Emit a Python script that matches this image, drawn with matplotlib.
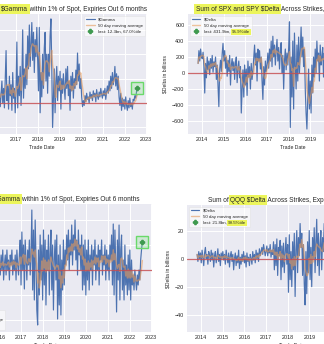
import matplotlib
matplotlib.use("Agg")
import matplotlib.pyplot as plt
import matplotlib.dates as mdates
import pandas as pd

# every series is sampled once every 14 days
step = "14D"
left_start = "2016-01-01"    # left panels: earlier part is cut off the picture
right_start = "2013-10-25"   # right panels: later part is cut off the picture

# Sum of SPX and SPY $Gamma within 1% of spot (bn)
spx_gamma = [8, 0, 12, -2, 15, 4, 10, -3, 8, 18, 0, 12, -4, 20, 43, 2, 14, -5, 22, 6, 15, -6, 25, 4, 12, -8,
             10, 50, -4, 22, 6, 30, -2, 18, 60, 4, 28, 12, 40, 15, 55, 28, 64, 30, 48, 66, 35, 58, 25, 52, 38, 62,
             35, 10, 62, -8, 25, 5, 40, 12, 45, 58, 18, 40, 8, 40, 22, 55, 69, 30, -20, 5, 28, -8, 18, 30, 2, 22,
             10, 26, -5, 20, 8, 24, 14, 3, 28, 12, 30, 6, 18, -6, 22, 10, 25, 4, 20, 12, 27, 15, 41, 18, 32, 12,
             20, 5, -3, 2, -2, 6, 1, 8, 3, 5, 0, 9, 4, 7, 2, 10, 5, 8, 1, 11, 6, 3, 9, 5, 12, 7,
             4, 10, 6, 12, 3, 9, 14, 8, 18, 10, 22, 12, 25, 15, 20, 30, 14, 24, 11, 22, 5, -2, 8, -6, 4, -3,
             3, -5, 5, -2, -6, 2, -4, 4, -3, 0, -5, 3, 2, 6, 4, 9, 12.3]

# Sum of QQQ $Gamma within 1% of spot (bn)
qqq_gamma = [2, -1, 3, 0, 4, -2, 1, 3, -1, 4, 0, 2, -2, 3, 1, 4, -1, 2, 0, 3, -2, 4, 1, -1, 3, 6,
             -3, 7.6, 0, 5, -3.8, 6, 2, -2, 4, 1, 6, -1, 3, 12, -4, 8, -6, 10, 2, -8, -11, 4, -5, 7, -2, 5,
             -6, 8, -3, 6, -7, 4, 0, 7, -5, 3, 8, -4, 5, -8, 2, 6, -2, 7, -9.8, 3, -7, 5, -9, 2, -4, 6,
             -3, 4, 1, 7, 2, 8, 0, 6, 3, 9, 1, 7, 4, 10, 2, 6, -1, 8, 3, 5, 0, 7, -4, 5, -3, 6,
             -5, 4, -2, 6, -4, 3, 0, 5, -3, 4, 1, 6, -2, 3, 0, 5, -3, 4, 2, 6, -1, 3, 1, 5, -2, 4,
             0, 3, -2, 5, 2, 7, -3, 9.2, -5, 8, 1, -8.4, 6, -2, 9, -6, 4, 7, -4, 2, -6, 5, -3, 1, -5, 3,
             -4, 4, -6, 2, -3, -1, -4, 0, -2, -4, -1, -3, 0, -2, 2, 4, 5.6]

# Sum of SPX and SPY $Delta across strikes (bn)
spx_delta = [120, 280, 150, 300, 200,
             180, 260, 90, -250, 120, -60, 200, 40, 150, -20, 180, 60, 220, 10, 140, 80, 200, -80, 100, -150,
             -420, 50, 160, 20, 240, 370,
             150, 280, 60, 200, -40, 160, 20, 220, -150, 100, 180, 30, 140, -80, 120, 200, -120, 60, 150, -60,
             80, -500, -200, 40, -300, 100,
             -150, 50, -280, 150, -50, 80, -200, 120, -80, 30, 200, 350, 100, 250, -100, 300, 150, 280, 50, 200,
             -100, -330, 80, -150, 150, 20,
             100, 250, 60, 300, 150, 400, 80, 460, 200, 350, 100, 280, 420, 150, 320, 50, 260, 380, 0, 220,
             -200, 150, 300, 40, 250, 100,
             300, 640, -680, 200, -300, 400, -450, 500, 100, -200, 350, -100, 450, 0, 300, 575, 200, 450, 80, 300,
             -200, -500, -700, -300, 50, -450,
             -100, -500, 100, -250, 200, -50, 300, 0, 400, 150, 250, -100, 350, 100, 200, 320, -50, 250, 100, 300]

# Sum of QQQ $Delta across strikes (bn)
qqq_delta = [3, -2, 5, 0, 4,
             -3, 6, 1, -5, 4, 8, 0, 3, -4, 5, 2, -2, 6, -1, 4, -6, 2, 5, -3, 1, 7, -2, 3, -5, 4, 0,
             5, -1, 3, -4, 6, 1, -3, 4, -6, 2, 5, -2, 3, -8, 0, 4, -5, 2, -3, 6, -7, 1, -4, 3, -2, 5,
             -3, 2, -6, 4, -2, 1, -5, 3, 0, -4, 5, -1, 3, -3, 6, 0, 4, -2, 7, 2, 5, 8, 3, 10, 6, 2,
             5, 9, 2, 7, 4, 10, 1, 6, 3, 12, -8, 10, -5, 14, -12, 8, 2, 13, -15, 9, -6, 11, -10, 5, 15, -4,
             10, -24, 17, -15, 5, -20, 12, -8, 18, -27, 6, 20, -10, 15, 2, 25, 8, 18, -12, 10, -18, -33, 5, -25, 12, -10,
             20, -15, 8, -20, 15, 0, 22, -10, 12, 28, -5, 18, -12, 10, 20, -8, 15, 5, 25, -3]

spx_gamma_last = "last: 12.3bn, 67.0%tile"
qqq_gamma_last = "last: 5.6bn, 97.4%tile"
spx_delta_last = "last: 431.9bn, 95.9%tile"
qqq_delta_last = "last: 21.8bn, 99.5%tile"

x_range = ("2013-05-08", "2023-01-15")

BLUE = "#4C72B0"
ORANGE = "#E49A5C"
RED = "#C44E52"
GREEN = "#3f9a4f"
YELLOW = "#ecf55b"

plt.style.use("seaborn-v0_8-darkgrid")
plt.rcParams["font.family"] = ["Liberation Sans", "DejaVu Sans"]
plt.rcParams["text.color"] = ".15"

W, H = 324, 344
fig = plt.figure(figsize=(W / 100, H / 100), dpi=100)
fig.patch.set_facecolor("white")


def px_rect(left, right, top, bottom):
    # axes rectangle from pixel edges (may reach outside the figure)
    return [left / W, (H - bottom) / H, (right - left) / W, (bottom - top) / H]


def panel(rect, values, start, name, last_text, ylim, loc, show_last, yticks=None):
    dates = pd.date_range(start, periods=len(values), freq=step)
    s = pd.Series(values, index=dates)
    ma = s.rolling("70D", min_periods=1).mean()  # ~50 trading days

    ax = fig.add_axes(rect)
    ax.set_facecolor("#EAEAF2")
    ax.plot(s.index, s.values, color=BLUE, lw=0.85, label=name)
    ax.plot(ma.index, ma.values, color=ORANGE, lw=1.0, alpha=0.6, label="50 day moving average")
    ax.axhline(0, color=RED, lw=0.9, alpha=0.85)
    if show_last:
        ax.plot(dates[-1:], s.values[-1:], ls="none", marker="s", ms=8,
                mfc=(0.55, 0.9, 0.55, 0.3), mec="#6ad96a", mew=1)
        ax.plot(dates[-1:], s.values[-1:], ls="none", marker="P", ms=3, color=GREEN, label=last_text)
    else:
        ax.plot([], [], ls="none", marker="P", ms=3, color=GREEN, label=last_text)

    ax.set_xlim(pd.Timestamp(x_range[0]), pd.Timestamp(x_range[1]))
    ax.set_ylim(*ylim)
    if yticks is not None:
        ax.set_yticks(yticks)
    ax.xaxis.set_major_locator(mdates.YearLocator())
    ax.xaxis.set_major_formatter(mdates.DateFormatter("%Y"))
    ax.grid(True, color="white", lw=0.7)
    for sp in ax.spines.values():
        sp.set_visible(False)
    ax.tick_params(labelsize=3.9, pad=2.5, length=0, colors=".15")
    ax.set_xlabel("Trade Date", fontsize=3.7, labelpad=1.5)
    ax.set_ylabel("$Delta in billions" if "Delta" in name else "$Gamma in billions", fontsize=3.7, labelpad=3)

    leg = ax.legend(loc=loc, fontsize=3.2, frameon=True, framealpha=0.6, facecolor="white",
                    edgecolor="0.85", borderpad=0.4, labelspacing=0.45, handlelength=2.0,
                    handletextpad=0.8, borderaxespad=0.4)
    leg.get_frame().set_linewidth(0.4)
    return ax, leg


def highlight(text_artist, word, renderer):
    # paint a yellow box behind one word of an already drawn text
    full = text_artist.get_text()
    fp = text_artist.get_fontproperties().copy()
    bb = text_artist.get_window_extent(renderer)
    upto = full[:full.index(word) + len(word)]
    tmp = fig.text(0, 0, upto, fontproperties=fp)
    w_upto = tmp.get_window_extent(renderer).width
    tmp.remove()
    fig.text((bb.x0 + w_upto) / W, bb.y0 / H, word, ha="right", va="bottom",
             fontproperties=fp, color=text_artist.get_color(),
             bbox=dict(boxstyle="square,pad=0.25", fc=YELLOW, ec="none"))


ax_tl, leg_tl = panel(px_rect(-63, 147, 14, 134), spx_gamma, left_start, "$Gamma", spx_gamma_last,
                      (-25.4, 73), "upper right", True)
ax_tr, leg_tr = panel(px_rect(188, 398, 14, 134), spx_delta, right_start, "$Delta", spx_delta_last,
                      (-762, 738), "upper left", False, yticks=range(-600, 601, 200))
ax_bl, leg_bl = panel(px_rect(-58, 152, 204, 332), qqq_gamma, left_start, "$Gamma", qqq_gamma_last,
                      (-12.4, 13.2), "lower left", True)
ax_br, leg_br = panel(px_rect(187, 397, 205, 332), qqq_delta, right_start, "$Delta", qqq_delta_last,
                      (-52.3, 38.2), "upper left", False, yticks=[-40, -20, 0, 20])

titles = [
    (ax_tl, "Sum of SPX and SPY $Gamma within 1% of Spot, Expiries Out 6 months", "$Gamma"),
    (ax_tr, "Sum of SPX and SPY $Delta Across Strikes, Expiries Out 6 months", "Sum of SPX and SPY $Delta"),
    (ax_bl, "Sum of QQQ $Gamma within 1% of Spot, Expiries Out 6 months", "$Gamma"),
    (ax_br, "Sum of QQQ $Delta Across Strikes, Expiries Out 6 months", "QQQ $Delta"),
]
for ax, t, _ in titles:
    ax.set_title(t, fontsize=4.7, pad=2.5)

fig.canvas.draw()
renderer = fig.canvas.get_renderer()
for ax, t, word in titles:
    highlight(ax.title, word, renderer)
for leg, word in [(leg_tr, "95.9%tile"), (leg_bl, "97.4%tile"), (leg_br, "99.5%tile")]:
    highlight(leg.get_texts()[2], word, renderer)

fig.savefig("out.png", dpi=100)
